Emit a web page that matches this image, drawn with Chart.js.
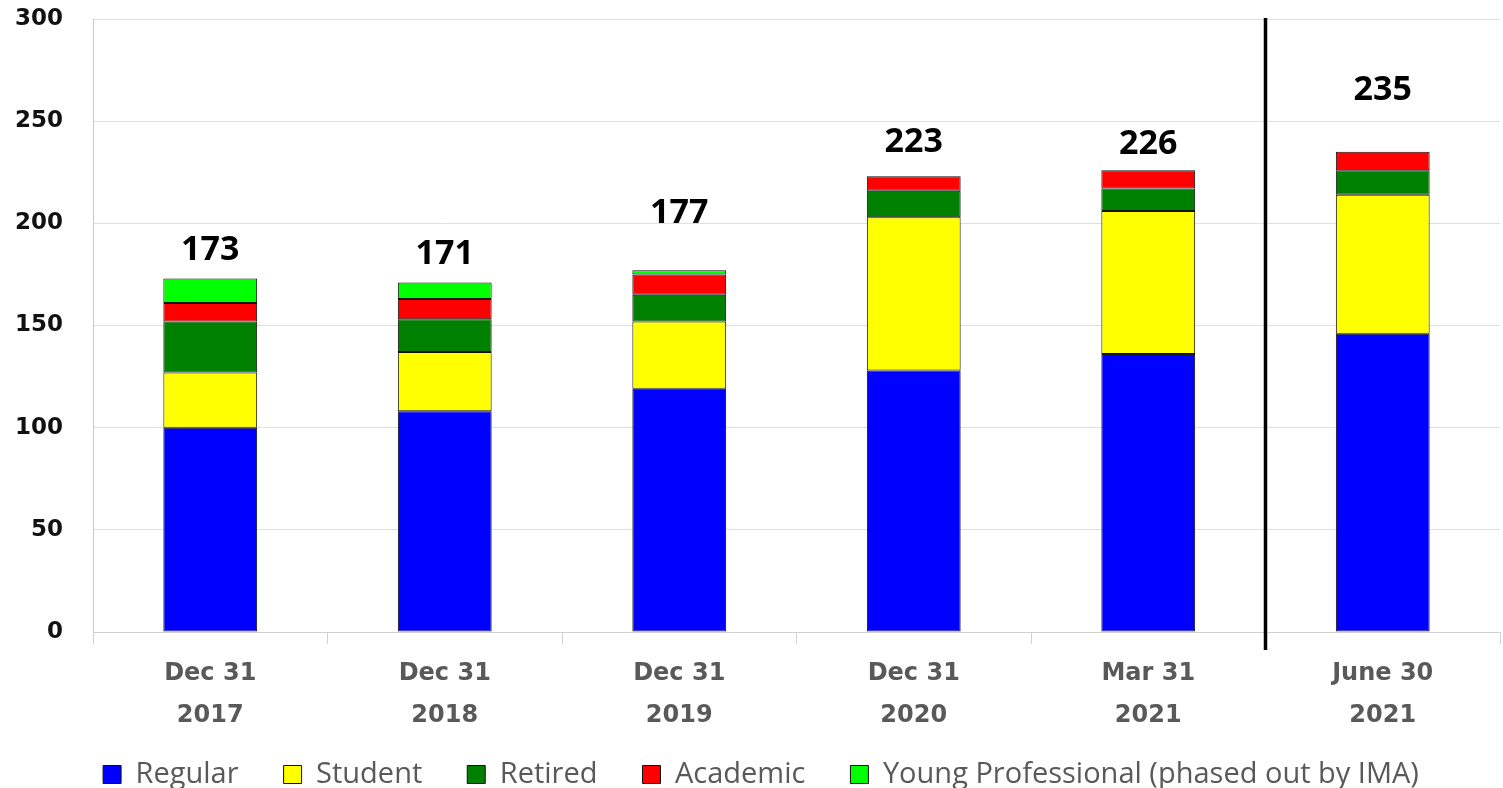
<!DOCTYPE html>
<html>
<head>
<meta charset="utf-8">
<script src="https://cdn.jsdelivr.net/npm/chart.js@4"></script>
<style>
  html, body { margin: 0; padding: 0; background: #fff; }
  #wrap { width: 1503px; height: 788px; position: relative; }
</style>
</head>
<body>
<div id="wrap"><canvas id="chart"></canvas></div>
<script>
var categories = [['Dec 31', '2017'], ['Dec 31', '2018'], ['Dec 31', '2019'], ['Dec 31', '2020'], ['Mar 31', '2021'], ['June 30', '2021']];
var regular = [100, 108, 119, 128, 136, 146];
var student = [27, 29, 33, 75, 70, 68];
var retired = [25, 16, 13, 13, 11, 12];
var academic = [9, 10, 10, 7, 9, 9];
var youngPro = [12, 8, 2, 0, 0, 0];
var yTicks = [0, 50, 100, 150, 200, 250, 300];

function series(label, values, color) {
    return {
        label: label,
        data: values,
        backgroundColor: color,
        borderColor: '#111',
        borderWidth: 1,
        borderSkipped: false,
        categoryPercentage: 1,
        barPercentage: 0.4
    };
}

// totals above each bar, the black divider before the last period,
// and a tighter legend box (wide item spacing, little height)
var extras = {
    id: 'extras',
    beforeUpdate: function (chart, args, opts) {
        var leg = chart.legend;
        if (leg && !leg._fixed) {
            var fit = leg.fit;
            leg.fit = function () { fit.call(this); this.height = opts.legendHeight; };
            leg._fixed = true;
        }
    },
    afterLayout: function (chart, args, opts) {
        var leg = chart.legend;
        leg.top -= opts.legendShift[1];
        leg.height += opts.legendShift[1];
        leg.left += opts.legendShift[0];
        leg.right += opts.legendShift[0];
    },
    afterDatasetsDraw: function (chart, args, opts) {
        var ctx = chart.ctx;
        var x = chart.scales.x, y = chart.scales.y;
        ctx.save();
        ctx.font = 'bold 34px "Open Sans"';
        ctx.fillStyle = '#000';
        ctx.textAlign = 'center';
        ctx.textBaseline = 'bottom';
        categories.forEach(function (c, i) {
            var total = chart.data.datasets.reduce(function (s, d) { return s + d.data[i]; }, 0);
            ctx.fillText(String(total), x.getPixelForValue(i), y.getPixelForValue(total) - opts.lift[i]);
        });
        var lx = (x.getPixelForValue(4) + x.getPixelForValue(5)) / 2;
        ctx.beginPath();
        ctx.strokeStyle = '#000';
        ctx.lineWidth = 3.5;
        ctx.moveTo(lx, chart.chartArea.top - 1);
        ctx.lineTo(lx, chart.chartArea.bottom + 18);
        ctx.stroke();
        ctx.restore();
    }
};

new Chart(document.getElementById('chart').getContext('2d'), {
    type: 'bar',
    data: {
        labels: categories,
        datasets: [
            series('Regular', regular, '#0000ff'),
            series('Student', student, '#ffff00'),
            series('Retired', retired, '#008000'),
            series('Academic', academic, '#ff0000'),
            series('Young Professional (phased out by IMA)', youngPro, '#00ff00')
        ]
    },
    options: {
        responsive: true,
        maintainAspectRatio: false,
        animation: false,
        layout: { padding: { top: 19, right: 3, left: 0, bottom: 0 } },
        plugins: {
            legend: {
                position: 'bottom',
                labels: {
                    color: '#595959',
                    font: { family: '"Open Sans"', size: 29 },
                    boxWidth: 18,
                    boxHeight: 18,
                    padding: 45,
                    useBorderRadius: false
                }
            },
            tooltip: { enabled: false },
            extras: { lift: [11, 11, 40, 17, 9, 45], legendHeight: 51, legendShift: [11, 22] }
        },
        scales: {
            x: {
                stacked: true,
                offset: true,
                grid: { offset: true, drawOnChartArea: false, color: '#d0d0d0', tickLength: 12 },
                border: { color: '#d0d0d0' },
                ticks: {
                    color: '#595959',
                    font: { family: '"DejaVu Sans"', size: 24, weight: 'bold', lineHeight: 1.75 },
                    padding: 9
                },
                afterFit: function (s) { s.height = 105; }
            },
            y: {
                stacked: true,
                min: 0,
                max: 300,
                afterBuildTicks: function (s) { s.ticks = yTicks.map(function (v) { return { value: v }; }); },
                grid: { color: '#e0e0e0', tickColor: 'rgba(0,0,0,0)', tickLength: 30 },
                border: { color: '#c8c8c8' },
                ticks: {
                    color: '#111',
                    font: { family: '"DejaVu Sans"', size: 23, weight: 'bold' },
                    padding: 0
                },
                afterFit: function (s) { s.width = 93; }
            }
        }
    },
    plugins: [extras]
});
</script>
</body>
</html>
